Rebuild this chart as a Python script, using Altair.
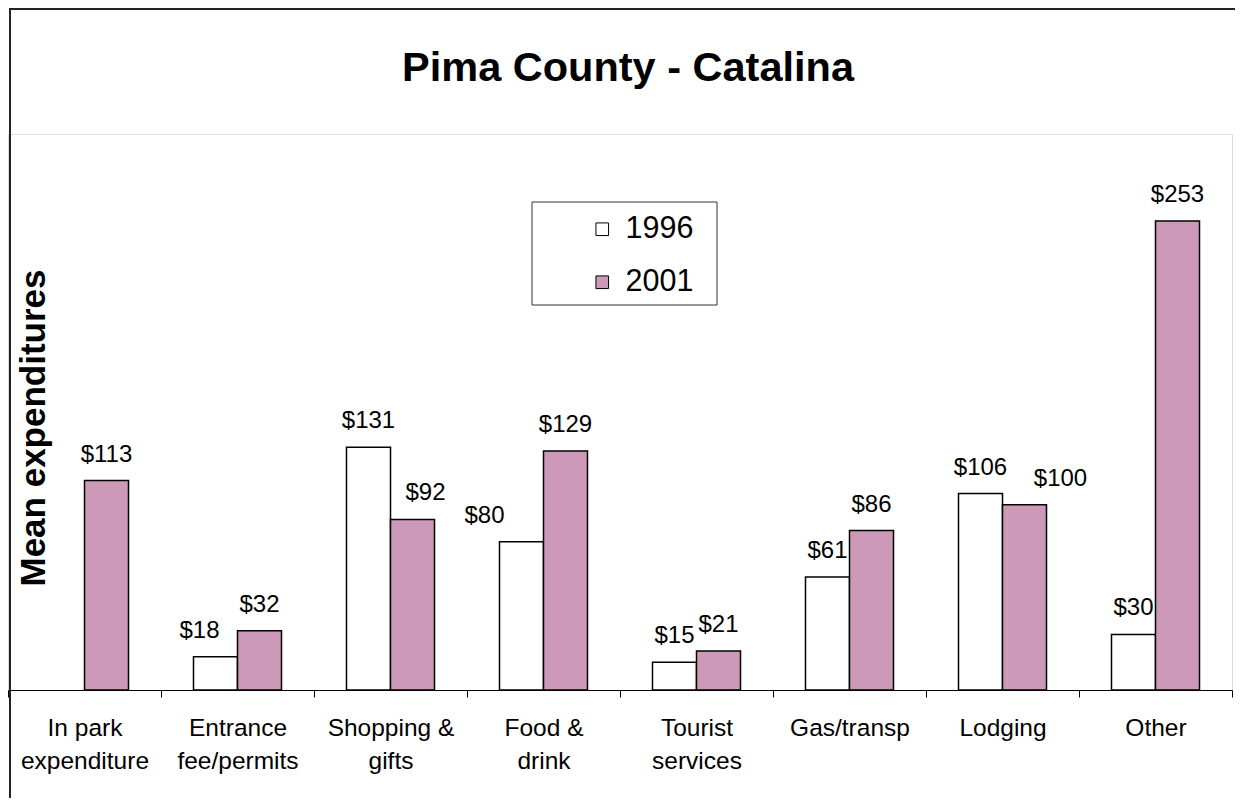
import altair as alt
import pandas as pd

# ---- data ----
CATEGORIES = ["In park|expenditure", "Entrance|fee/permits", "Shopping &|gifts",
              "Food &|drink", "Tourist|services", "Gas/transp", "Lodging", "Other"]
YEARS = ["1996", "2001"]
VALUES_1996 = [None, 18, 131, 80, 15, 61, 106, 30]
VALUES_2001 = [113, 32, 92, 129, 21, 86, 100, 253]
TITLE = "Pima County - Catalina"
Y_TITLE = "Mean expenditures"

# ---- styling ----
COLORS = ["#ffffff", "#cc9ab8"]
FONT = "Liberation Sans"
# horizontal nudges (px) of some value labels, as placed in the reference
LABEL_NUDGES = {
    "Entrance|fee/permits/1996": -16,
    "Shopping &|gifts/2001": 13,
    "Food &|drink/1996": -37,
    "Lodging/2001": 36,
}

rows = []
for year, vals in zip(YEARS, [VALUES_1996, VALUES_2001]):
    for cat, v in zip(CATEGORIES, vals):
        if v is not None:
            rows.append({"category": cat, "year": year, "value": v,
                         "label": f"${v}", "key": f"{cat}/{year}"})
df = pd.DataFrame(rows)

x_enc = alt.X(
    "category:N",
    sort=CATEGORIES,
    scale=alt.Scale(domain=CATEGORIES, paddingInner=0, paddingOuter=0),
    axis=alt.Axis(
        title=None, labelExpr="datum.value ? split(datum.value, '|') : ''", labelAngle=0,
        labelFontSize=24.5, labelLineHeight=33, labelPadding=19,
        labelBaseline="top", labelColor="black", labelFont=FONT,
        tickBand="extent", tickSize=7, tickColor="black", tickWidth=1,
        domainColor="black", domainWidth=1, grid=False,
    ),
)
xoff_enc = alt.XOffset("year:N", scale=alt.Scale(domain=YEARS, paddingInner=0, paddingOuter=0.7386))
y_enc = alt.Y(
    "value:Q",
    scale=alt.Scale(domain=[0, 300], nice=False),
    axis=alt.Axis(
        title=Y_TITLE, labels=False, ticks=False, domain=False, grid=False,
        titleFontSize=35, titleFontWeight="bold", titleFont=FONT, titleColor="black",
        titleAngle=270, titleX=36, titleY=293.5, titleAlign="center",
        titleBaseline="alphabetic",
    ),
)

base = alt.Chart(df)

bars = base.mark_bar(stroke="black", strokeWidth=1.5).encode(
    x=x_enc,
    xOffset=xoff_enc,
    y=y_enc,
    color=alt.Color(
        "year:N",
        scale=alt.Scale(domain=YEARS, range=COLORS),
        legend=alt.Legend(
            orient="none", legendX=579, legendY=80, title=None,
            symbolType="square", symbolSize=160, symbolStrokeColor="black",
            symbolStrokeWidth=1, symbolOpacity=1, labelFontSize=30.5, labelFont=FONT,
            labelColor="black", rowPadding=22, labelOffset=8, padding=0,
        ),
    ),
)


def label_layer(dx, keys, include):
    flt = alt.FieldOneOfPredicate(field="key", oneOf=keys)
    ch = base.transform_filter(flt if include else ~alt.Predicate(flt))
    return ch.mark_text(fontSize=24, dy=-19, dx=dx, baseline="alphabetic",
                        color="black", font=FONT).encode(
        x=alt.X("category:N", sort=CATEGORIES),
        xOffset=alt.XOffset("year:N"),
        y=alt.Y("value:Q"),
        text="label:N",
    )


label_layers = [label_layer(0, list(LABEL_NUDGES.keys()), False)]
for k, d in LABEL_NUDGES.items():
    label_layers.append(label_layer(d, [k], True))

one = alt.Data(values=[{"t": TITLE}])

border = alt.Chart(one).mark_rect(fillOpacity=0, stroke="#222222", strokeWidth=2).encode(
    x=alt.value(2), x2=alt.value(1500), y=alt.value(-125), y2=alt.value(1200)
)

legend_box = alt.Chart(one).mark_rect(fill="white", stroke="#333333", strokeWidth=1).encode(
    x=alt.value(524), x2=alt.value(709), y=alt.value(68), y2=alt.value(171)
)

title = alt.Chart(one).mark_text(
    fontSize=41.5, fontWeight="bold", font=FONT, align="center", baseline="alphabetic", color="black"
).encode(x=alt.value(620), y=alt.value(-53), text="t:N")

chart = alt.layer(border, legend_box, title, bars, *label_layers).properties(
    width=1224, height=556,
    autosize=alt.AutoSizeParams(type="none"),
    padding={"left": 0, "top": 126, "right": 3, "bottom": 108},
    background="white",
).configure_view(stroke="#808080", strokeWidth=1).configure(font=FONT)

chart.save("out.html", embed_options={"renderer": "svg", "actions": False})
